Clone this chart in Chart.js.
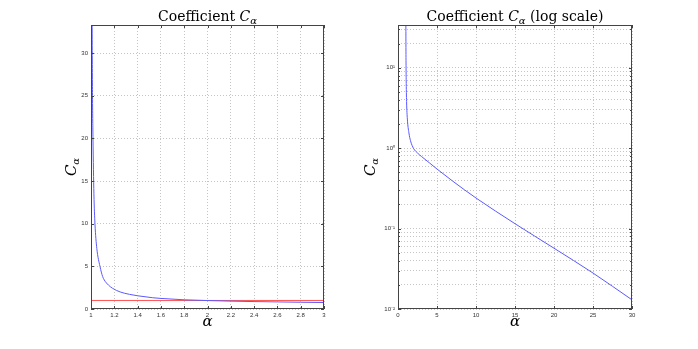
<!DOCTYPE html>
<html>
<head>
<meta charset="utf-8">
<script src="https://cdn.jsdelivr.net/npm/chart.js@4.4.0/dist/chart.umd.min.js"></script>
<style>
  html, body { margin: 0; padding: 0; background: #fff; }
  #wrap { position: relative; width: 698px; height: 349px; }
  canvas { position: absolute; top: 0; }
  #left { left: 0; }
  #right { left: 349px; }
</style>
</head>
<body>
<div id="wrap">
  <canvas id="left" width="349" height="349"></canvas>
  <canvas id="right" width="349" height="349"></canvas>
</div>
<script>
// Left panel: C_alpha on 1..3 (linear)
const alphaLeft = [1.006, 1.01, 1.013, 1.017, 1.025, 1.034, 1.05, 1.077, 1.1, 1.114, 1.15, 1.186, 1.25, 1.33, 1.4, 1.53, 1.6, 1.8, 2.0, 2.2, 2.4, 2.6, 2.8, 3.0];
const cLeft = [55, 33, 25, 20, 13.5, 10, 7.1, 5, 3.8, 3.4, 2.8, 2.42, 2.0, 1.72, 1.55, 1.32, 1.24, 1.08, 0.99, 0.92, 0.87, 0.83, 0.79, 0.76];
const refAlpha = [1, 3];
const refValue = [1, 1];
const xTicksLeft = [1, 1.2, 1.4, 1.6, 1.8, 2, 2.2, 2.4, 2.6, 2.8, 3];
const yTicksLeft = [0, 5, 10, 15, 20, 25, 30];

// Right panel: C_alpha on 1..30 (log scale)
const alphaRight = [1.006, 1.01, 1.017, 1.034, 1.05, 1.1, 1.2, 1.4, 1.6, 2, 2.5, 3, 4, 5, 7, 10, 15, 20, 25, 30];
const cRight = [55, 33, 20, 10, 7.1, 3.8, 2.3, 1.55, 1.24, 0.99, 0.87, 0.79, 0.66, 0.55, 0.39, 0.24, 0.115, 0.057, 0.028, 0.013];
const xTicksRight = [0, 5, 10, 15, 20, 25, 30];
const yTicksRight = [0.01, 0.02, 0.03, 0.04, 0.05, 0.06, 0.07, 0.08, 0.09,
                     0.1, 0.2, 0.3, 0.4, 0.5, 0.6, 0.7, 0.8, 0.9,
                     1, 2, 3, 4, 5, 6, 7, 8, 9, 10, 20, 30];
const yLabelsRight = { 0.01: '10\u207B\u00B2', 0.1: '10\u207B\u00B9', 1: '10\u2070', 10: '10\u00B9' };

const SERIF = '"DejaVu Serif", "Liberation Serif", serif';
const tickFont = { family: 'Liberation Sans, Arial, sans-serif', size: 6 };

// draw a run of text pieces (for subscripts), centered on cx
function drawParts(ctx, parts, cx, y) {
  let w = 0;
  parts.forEach(p => { ctx.font = p.font; w += ctx.measureText(p.t).width; });
  let x = cx - w / 2;
  ctx.textBaseline = 'alphabetic';
  ctx.textAlign = 'left';
  parts.forEach(p => {
    ctx.font = p.font;
    ctx.fillText(p.t, x, y + (p.dy || 0));
    x += ctx.measureText(p.t).width;
  });
}

const framePlugin = {
  id: 'frame',
  afterDraw(chart, args, opts) {
    const { ctx, chartArea: a } = chart;
    const xs = chart.scales.x, ys = chart.scales.y;
    ctx.save();
    ctx.strokeStyle = '#444';
    ctx.lineWidth = 1;
    ctx.strokeRect(Math.round(a.left) + 0.5, Math.round(a.top) + 0.5,
                   Math.round(a.right - a.left) - 1, Math.round(a.bottom - a.top) - 1);
    ctx.beginPath();
    xs.ticks.forEach(t => {
      const px = Math.round(xs.getPixelForValue(t.value)) + 0.5;
      ctx.moveTo(px, a.bottom); ctx.lineTo(px, a.bottom - 3);
      ctx.moveTo(px, a.top); ctx.lineTo(px, a.top + 3);
    });
    ys.ticks.forEach(t => {
      const py = Math.round(ys.getPixelForValue(t.value)) + 0.5;
      const len = opts.minor && !yLabelsRight[t.value] ? 2 : 3;
      ctx.moveTo(a.left, py); ctx.lineTo(a.left + len, py);
      ctx.moveTo(a.right, py); ctx.lineTo(a.right - len, py);
    });
    ctx.stroke();

    ctx.fillStyle = '#000';
    const cx = (a.left + a.right) / 2;
    drawParts(ctx, opts.title, cx, 21);
    drawParts(ctx, [{ t: '\u03B1', font: 'italic 15px ' + SERIF }], cx, 326);
    ctx.translate(opts.yLabelX, (a.top + a.bottom) / 2);
    ctx.rotate(-Math.PI / 2);
    drawParts(ctx, [
      { t: 'C', font: 'italic 15px ' + SERIF },
      { t: '\u03B1', font: 'italic 10px ' + SERIF, dy: 3 }
    ], 0, 0);
    ctx.restore();
  }
};

const gridStyle = { color: '#c4c4c4', lineWidth: 1, drawTicks: false };
const borderStyle = { display: false, dash: [1, 2] };

// left chart
new Chart(document.getElementById('left'), {
  type: 'line',
  data: {
    datasets: [
      {
        data: alphaLeft.map((a, i) => ({ x: a, y: cLeft[i] })),
        borderColor: '#5a5aff', borderWidth: 1, pointRadius: 0,
        cubicInterpolationMode: 'monotone'
      },
      {
        data: refAlpha.map((a, i) => ({ x: a, y: refValue[i] })),
        borderColor: '#ff5555', borderWidth: 1, pointRadius: 0
      }
    ]
  },
  options: {
    responsive: false,
    animation: false,
    devicePixelRatio: 1,
    layout: { padding: { top: 25, right: 25, left: 0, bottom: 0 } },
    plugins: {
      legend: { display: false },
      tooltip: { enabled: false },
      frame: {
        yLabelX: 76,
        title: [
          { t: 'Coefficient ', font: '14px ' + SERIF },
          { t: 'C', font: 'italic 14px ' + SERIF },
          { t: '\u03B1', font: 'italic 10px ' + SERIF, dy: 3 }
        ]
      }
    },
    scales: {
      x: {
        type: 'linear', min: 1, max: 3,
        afterBuildTicks: s => { s.ticks = xTicksLeft.map(v => ({ value: v })); },
        afterFit: s => { s.height = 40; },
        grid: gridStyle, border: borderStyle,
        ticks: { font: tickFont, color: '#333', padding: 3, autoSkip: false, maxRotation: 0,
                 callback: v => String(+v.toFixed(1)) }
      },
      y: {
        type: 'linear', min: 0, max: 33.3,
        afterBuildTicks: s => { s.ticks = yTicksLeft.map(v => ({ value: v })); },
        afterFit: s => { s.width = 91; },
        grid: gridStyle, border: borderStyle,
        ticks: { font: tickFont, color: '#333', padding: 3, autoSkip: false,
                 callback: v => String(v) }
      }
    }
  },
  plugins: [framePlugin]
});

// right chart
new Chart(document.getElementById('right'), {
  type: 'line',
  data: {
    datasets: [
      {
        data: alphaRight.map((a, i) => ({ x: a, y: cRight[i] })),
        borderColor: '#5a5aff', borderWidth: 1, pointRadius: 0,
        cubicInterpolationMode: 'monotone'
      }
    ]
  },
  options: {
    responsive: false,
    animation: false,
    devicePixelRatio: 1,
    layout: { padding: { top: 25, right: 66, left: 0, bottom: 0 } },
    plugins: {
      legend: { display: false },
      tooltip: { enabled: false },
      frame: {
        yLabelX: 26,
        minor: true,
        title: [
          { t: 'Coefficient ', font: '14px ' + SERIF },
          { t: 'C', font: 'italic 14px ' + SERIF },
          { t: '\u03B1', font: 'italic 10px ' + SERIF, dy: 3 },
          { t: ' (log scale)', font: '14px ' + SERIF }
        ]
      }
    },
    scales: {
      x: {
        type: 'linear', min: 0, max: 30,
        afterBuildTicks: s => { s.ticks = xTicksRight.map(v => ({ value: v })); },
        afterFit: s => { s.height = 40; },
        grid: gridStyle, border: borderStyle,
        ticks: { font: tickFont, color: '#333', padding: 3, autoSkip: false, maxRotation: 0,
                 callback: v => String(v) }
      },
      y: {
        type: 'logarithmic', min: 0.01, max: 34,
        afterBuildTicks: s => { s.ticks = yTicksRight.map(v => ({ value: v })); },
        afterFit: s => { s.width = 49; },
        grid: gridStyle, border: borderStyle,
        ticks: { font: tickFont, color: '#333', padding: 3, autoSkip: false,
                 callback: v => yLabelsRight[v] || '' }
      }
    }
  },
  plugins: [framePlugin]
});
</script>
</body>
</html>
